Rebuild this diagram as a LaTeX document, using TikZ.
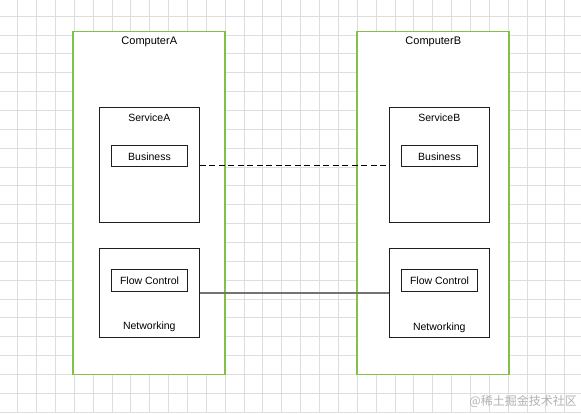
\documentclass[tikz,border=0pt]{standalone}
\usepackage{fontspec}
\setmainfont{Liberation Sans}
\newfontfamily\cjk{Noto Sans CJK SC}
\definecolor{boxgreen}{RGB}{130,192,70}
\definecolor{boxline}{RGB}{30,30,30}
\definecolor{gridgray}{RGB}{222,222,222}
\tikzset{
  gridline/.style={draw=gridgray,line width=0.6pt},
  computer/.style={draw=boxgreen,line width=1.3pt,fill=white,inner sep=0pt,minimum width=152pt,minimum height=343pt},
  layer/.style={draw=boxline,line width=1pt,fill=white,inner sep=0pt,minimum width=100pt},
  module/.style={draw=boxline,line width=1pt,fill=white,inner sep=0pt,minimum width=75.6pt,minimum height=21.3pt,font=\fontsize{10.5}{12}\selectfont},
  lbl/.style={inner sep=0pt,font=\fontsize{10.5}{12}\selectfont},
}
\begin{document}
\begin{tikzpicture}[x=1pt,y=-1pt]
\useasboundingbox (0,0) rectangle (581,413);
\fill[white] (0,0) rectangle (581,413);
%
% --- Hintergrundraster ---
\foreach \i in {0,...,31}
  \draw[gridline] ({-1.26+\i*18.86},0) -- ({-1.26+\i*18.86},413);
\foreach \j in {0,...,22}
  \draw[gridline] (0,{-2.86+\j*18.86}) -- (581,{-2.86+\j*18.86});
%
% --- Rechner A ---
\node[computer] (compA) at (149,203) {};
\node[lbl,font=\fontsize{11}{13}\selectfont] (titA) at (149.3,41.7) {ComputerA};
\node[layer,minimum height=115pt] (servA) at (149.3,165.1) {};
\node[lbl] (servAtxt) at (149.3,117.5) {ServiceA};
\node[module] (busA) at (149.5,156.3) {Business};
\node[layer,minimum height=89.2pt] (netA) at (149.3,292.6) {};
\node[lbl] (netAtxt) at (149.3,327) {Networking};
\node[module] (flowA) at (149.5,280.5) {Flow Control};
%
% --- Rechner B ---
\node[computer] (compB) at (433,203) {};
\node[lbl,font=\fontsize{11}{13}\selectfont] (titB) at (433.3,41.7) {ComputerB};
\node[layer,minimum height=115pt] (servB) at (439.3,165.1) {};
\node[lbl] (servBtxt) at (439.3,117.5) {ServiceB};
\node[module] (busB) at (439.5,156.3) {Business};
\node[layer,minimum height=89.2pt] (netB) at (439.3,292.6) {};
\node[lbl] (netBtxt) at (439.3,328) {Networking};
\node[module] (flowB) at (439.5,280.5) {Flow Control};
%
% --- Verbindungen ---
\draw[black,line width=1pt,dash pattern=on 6pt off 3.5pt] (servA.east) -- (servB.west);
\draw[black!55,line width=2.2pt] (netA.east) -- (netB.west);
%
% Wasserzeichen
\node[text=black!30,inner sep=0pt,anchor=east,font=\cjk\fontsize{12}{14}\selectfont] (mark) at (577,401) {@稀土掘金技术社区};
\end{tikzpicture}
\end{document}
